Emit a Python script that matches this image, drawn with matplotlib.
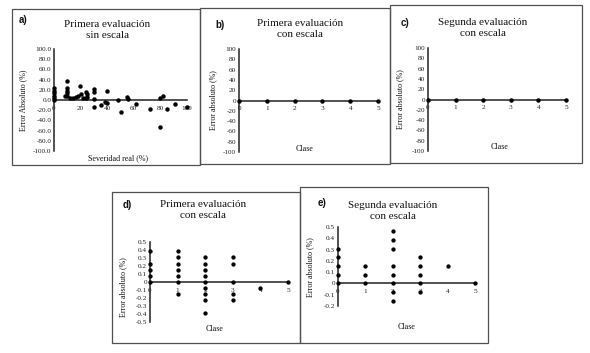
import matplotlib
matplotlib.use('Agg')
from matplotlib import pyplot as plt
from matplotlib.patches import Rectangle
from matplotlib.ticker import FuncFormatter

plt.rcParams['font.family'] = ['Liberation Serif', 'DejaVu Serif']
plt.rcParams['axes.unicode_minus'] = False

# a) Primera evaluacion sin escala
sev_a = [0, 0, 0, 0, 0, 0, 10, 10, 10, 10, 10, 8, 12, 14.5, 16.5, 18, 19.5, 20, 22, 24, 25, 25, 24,
         30, 30, 30, 30, 35, 38, 40, 40, 48, 50, 55, 56, 62, 72, 80, 82, 80, 85, 91, 100]
err_a = [23, 18, 13, 8, 3, 0, 37.6, 23, 18, 13, 8, 8, 3, 3, 5, 8, 27.6, 11, 3, 16, 11, 6, 3,
         21, 16, 1, -14, -10, -3, 18, -5, 0, -23, 5, 2, -8, -18, 3, 7, -53, -18, -7, -13]

# b) y c) todas las clases con error cero
clase_b = [0, 1, 2, 3, 4, 5]
err_b = [0, 0, 0, 0, 0, 0]
clase_c = [0, 1, 2, 3, 4, 5]
err_c = [0, 0, 0, 0, 0, 0]

# d) Primera evaluacion con escala
clase_d = [0, 0, 0, 0, 0,
           1, 1, 1, 1, 1, 1, 1,
           2, 2, 2, 2, 2, 2, 2, 2, 2,
           3, 3, 3, 3, 3,
           4, 5]
err_d = [0, 0.077, 0.154, 0.231, 0.385,
         0.385, 0.308, 0.231, 0.154, 0.077, 0, -0.154,
         0.308, 0.231, 0.154, 0.077, 0, -0.077, -0.154, -0.231, -0.385,
         0.308, 0.231, 0, -0.154, -0.231,
         -0.077, 0]

# e) Segunda evaluacion con escala
clase_e = [0, 0, 0, 0, 0,
           1, 1, 1,
           2, 2, 2, 2, 2, 2, 2, 2,
           3, 3, 3, 3, 3,
           4, 5]
err_e = [0.308, 0.231, 0.154, 0.077, 0,
         0.154, 0.077, 0,
         0.462, 0.385, 0.308, 0.154, 0.077, 0, -0.077, -0.154,
         0.231, 0.154, 0.077, 0, -0.077,
         0.154, 0]

W, H = 590, 353
fig = plt.figure(figsize=(W / 100, H / 100), dpi=100)


def box(x0, y0, x1, y1):
    # pixel box (top-left origin) -> figure fraction
    return [x0 / W, 1 - y1 / H, (x1 - x0) / W, (y1 - y0) / H]


def ftext(x, y, s, **kw):
    fig.text(x / W, 1 - y / H, s, **kw)


def panel(x0, y0, x1, y1):
    fig.add_artist(Rectangle((x0 / W, 1 - y1 / H), (x1 - x0) / W, (y1 - y0) / H,
                             transform=fig.transFigure, fill=False,
                             edgecolor='#505050', linewidth=0.9))


def make_axes(pos, xlim, ylim, yticks, yfmt, xticks, xs, ys, ms):
    ax = fig.add_axes(pos)
    ax.set_xlim(xlim)
    ax.set_ylim(ylim)
    ax.patch.set_alpha(0)
    for s in ['top', 'right']:
        ax.spines[s].set_visible(False)
    ax.spines['left'].set_position(('data', 0))
    ax.spines['bottom'].set_position(('data', 0))
    for s in ['left', 'bottom']:
        ax.spines[s].set_linewidth(1.1)
        ax.spines[s].set_color('#222222')
    ax.set_yticks(yticks)
    ax.yaxis.set_major_formatter(FuncFormatter(yfmt))
    ax.set_xticks(xticks)
    ax.tick_params(length=0, labelsize=5.2, colors='#222222')
    ax.tick_params(axis='y', pad=2)
    ax.tick_params(axis='x', pad=4)
    ax.plot(xs, ys, 'o', color='black', markersize=ms, clip_on=False, zorder=5)
    return ax


# panel borders
panel(12, 9, 200, 165)
panel(200, 8, 390, 164)
panel(390, 5, 582, 163)
panel(112, 192, 300, 343)
panel(300, 187, 488, 343)

# a)
make_axes(box(54, 49, 187, 151), (0, 100), (-100, 100), range(-100, 101, 20),
          lambda v, p: '%.1f' % v, range(0, 101, 20), sev_a, err_a, 2.2)
# b)
make_axes(box(239, 49, 378, 152), (0, 5), (-100, 100), range(-100, 101, 20),
          lambda v, p: '%d' % v, clase_b, clase_b, err_b, 2.2)
# c)
make_axes(box(428, 48, 566, 151), (0, 5), (-100, 100), range(-100, 101, 20),
          lambda v, p: '%d' % v, clase_c, clase_c, err_c, 2.2)
# d)
ticks_d = [-0.5, -0.4, -0.3, -0.2, -0.1, 0, 0.1, 0.2, 0.3, 0.4, 0.5]
make_axes(box(150, 242, 288, 322), (0, 5), (-0.5, 0.5), ticks_d,
          lambda v, p: '%g' % round(v, 1), clase_b, clase_d, err_d, 2.1)
# e)
ticks_e = [-0.2, -0.1, 0, 0.1, 0.2, 0.3, 0.4, 0.5]
make_axes(box(338, 227, 475, 306), (0, 5), (-0.2, 0.5), ticks_e,
          lambda v, p: '%g' % round(v, 1), clase_b, clase_e, err_e, 2.1)

tkw = dict(fontsize=8, ha='center', va='center', linespacing=1.3, color='#111111')
ftext(107, 30, 'Primera evaluación\nsin escala', **tkw)
ftext(300, 29, 'Primera evaluación\ncon escala', **tkw)
ftext(483, 28, 'Segunda evaluación\ncon escala', **tkw)
ftext(203, 210, 'Primera evaluación\ncon escala', **tkw)
ftext(393, 211, 'Segunda evaluación\ncon escala', **tkw)

lkw = dict(fontsize=7, fontweight='bold', ha='center', va='center',
           family=['Liberation Sans', 'DejaVu Sans'], color='#111111')
ftext(23, 20, 'a)', **lkw)
ftext(220, 25, 'b)', **lkw)
ftext(405, 23, 'c)', **lkw)
ftext(127, 205, 'd)', **lkw)
ftext(322, 203, 'e)', **lkw)

xkw = dict(fontsize=5.8, ha='center', va='center', color='#111111')
ftext(118, 158, 'Severidad real (%)', **xkw)
ftext(305, 149, 'Clase', **xkw)
ftext(500, 147, 'Clase', **xkw)
ftext(215, 329, 'Clase', **xkw)
ftext(407, 327, 'Clase', **xkw)

ykw = dict(fontsize=5.8, ha='center', va='center', rotation=90, color='#111111')
ftext(23, 100, 'Error Absoluto (%)', **ykw)
ftext(213, 100, 'Error absoluto (%)', **ykw)
ftext(400, 99, 'Error absoluto (%)', **ykw)
ftext(123, 287, 'Error absoluto (%)', **ykw)
ftext(310, 267, 'Error absoluto (%)', **ykw)

plt.savefig('out.png', dpi=100)
